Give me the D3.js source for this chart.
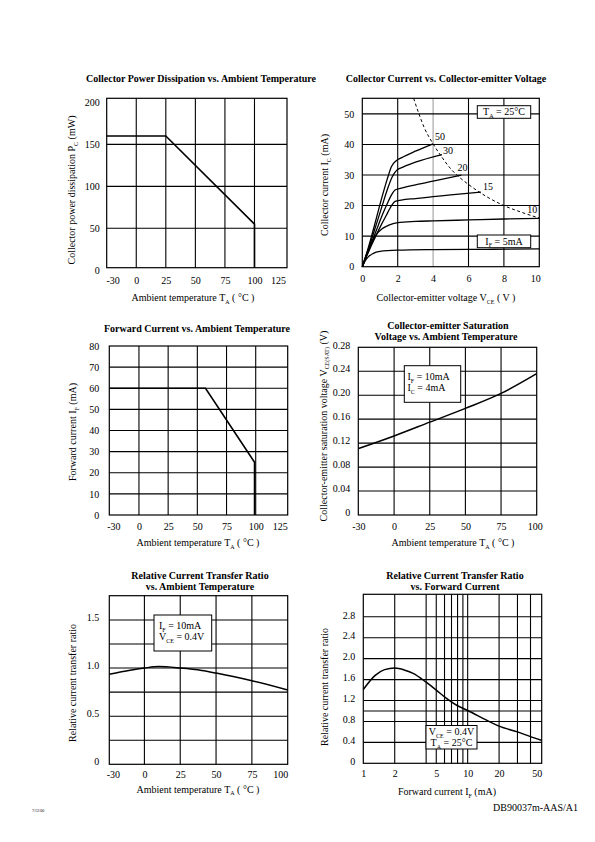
<!DOCTYPE html>
<html><head><meta charset="utf-8">
<script src="https://cdnjs.cloudflare.com/ajax/libs/d3/7.8.5/d3.min.js"></script>
<style>body{margin:0;background:#fff} text{font-family:"Liberation Serif","Times New Roman",serif;fill:#000}</style>
</head><body><script>
// ================= DATA =================
// Panel 1: Collector power dissipation vs ambient temperature
const pdTemp = [-30, 25, 100, 100];
const pdPower = [160, 160, 55, 0];
const pdXTicks = [-30, 0, 25, 50, 75, 100, 125];
const pdYTicks = [0, 50, 100, 150, 200];
const pdXGrid = [0, 25, 50, 75, 100];
const pdYGrid = [50, 100, 150];

// Panel 2: Collector current vs collector-emitter voltage  [Vce, Ic]
const ccXTicks = [0, 2, 4, 6, 8, 10];
const ccYTicks = [0, 10, 20, 30, 40, 50];
const ccXGrid = [2, 4, 6, 8];
const ccYGrid = [10, 20, 30, 40, 50];
const ccCurveLabels = ["50", "30", "20", "15", "10"];
const ic50 = [[0,0],[0.2,3.5],[0.5,9.5],[0.8,16],[1.1,22.5],[1.4,28.5],[1.65,32.8],[1.9,34.6],[2.2,35.6],[3,37.8],[4,40.2]];
const ic30 = [[0,0],[0.2,3.3],[0.5,8.5],[0.8,14],[1.1,19.5],[1.4,25],[1.7,29.5],[1.95,31.6],[2.3,32.6],[3,34.2],[4.5,36.7]];
const ic20 = [[0,0],[0.2,3],[0.5,7.5],[0.8,12],[1.1,16.5],[1.4,20.5],[1.65,23.5],[1.85,25.1],[2.2,25.7],[3,26.8],[4,28],[5.6,30]];
const ic15 = [[0,0],[0.2,2.8],[0.5,6.8],[0.8,10.5],[1.1,14],[1.4,17.3],[1.65,20],[1.85,21.4],[2.2,21.8],[3,22.3],[4,22.9],[5,23.5],[6.7,24.4]];
const ic10 = [[0,0],[0.2,3.5],[0.45,7],[0.75,10.2],[1.1,12.3],[1.5,13.6],[2,14.4],[3,14.8],[4,15],[6,15.3],[8,15.6],[10,15.8]];
const ic5  = [[0,0],[0.15,1.8],[0.35,3.3],[0.6,4.3],[1,5],[2,5.4],[4,5.6],[7,5.7],[10,5.8]];
const icLimit = [[2.9,55.1],[3.2,50],[3.5,45.5],[4,40.2],[4.5,35.8],[5,32],[5.5,29.2],[6,26.9],[7,23],[8,20],[9,17.8],[10,15.9]];

// Panel 3: Forward current vs ambient temperature
const fcTemp = [-30, 57, 99, 99];
const fcCurrent = [60, 60, 25, 0];
const fcXTicks = [-30, 0, 25, 50, 75, 100, 125];
const fcYTicks = [0, 10, 20, 30, 40, 50, 60, 70, 80];
const fcXGrid = [0, 25, 50, 75, 100];
const fcYGrid = [10, 20, 30, 40, 50, 60, 70];

// Panel 4: Vce(sat) vs ambient temperature
const vsTemp = [-25, 0, 25, 50, 75, 100];
const vsVolt = [0.111, 0.132, 0.155, 0.178, 0.203, 0.236];
const vsXTicks = [-30, 0, 25, 50, 75, 100];
const vsYTicks = [0, 0.04, 0.08, 0.12, 0.16, 0.20, 0.24, 0.28];
const vsXGrid = [0, 25, 50, 75];
const vsYGrid = [0.04, 0.08, 0.12, 0.16, 0.20, 0.24];

// Panel 5: Relative CTR vs ambient temperature
const rtTemp = [-25, -10, 0, 10, 25, 40, 50, 75, 100];
const rtRatio = [0.935, 0.978, 1.0, 1.015, 1.0, 0.975, 0.948, 0.868, 0.773];
const rtXTicks = [-30, 0, 25, 50, 75, 100];
const rtYTicks = [0, 0.5, 1.0, 1.5];
const rtXGrid = [0, 25, 50, 75];
const rtYGrid = [0.25, 0.5, 0.75, 1.0, 1.25, 1.5];

// Panel 6: Relative CTR vs forward current
const rfCurrent = [1, 1.3, 1.6, 2, 2.5, 3, 4, 5, 6, 8, 10, 15, 20, 30, 40, 51];
const rfRatio = [1.41, 1.68, 1.79, 1.82, 1.78, 1.72, 1.55, 1.40, 1.27, 1.10, 1.01, 0.83, 0.71, 0.60, 0.51, 0.44];
const rfXTicks = [1, 2, 5, 10, 20, 50];
const rfYTicks = [0, 0.4, 0.8, 1.2, 1.6, 2.0, 2.4, 2.8];
const rfXGrid = [2, 4, 5, 6, 7, 8, 9, 10, 20, 30, 40];
const rfYGrid = [0.4, 0.8, 1.0, 1.2, 1.6, 2.0, 2.4, 2.8];

// ================= DRAWING =================
const FONT = '"Liberation Serif","Times New Roman",serif';
const svg = d3.select("body").append("svg").attr("width", 595).attr("height", 842)
  .style("background", "#fff");

// rich text: parts = array of strings or ["sub", text]
function rich(g, x, y, parts, opt = {}) {
  const size = opt.size || 10;
  const t = g.append("text").attr("x", x).attr("y", y)
    .attr("font-size", size).attr("font-family", FONT)
    .attr("text-anchor", opt.anchor || "middle")
    .attr("font-weight", opt.bold ? "bold" : "normal");
  if (opt.rotate) t.attr("transform", `rotate(-90,${x},${y})`);
  let lowered = false;
  parts.forEach(p => {
    if (Array.isArray(p)) {
      t.append("tspan").attr("dy", lowered ? 0 : 2.6).attr("font-size", size * 0.6).text(p[1]);
      lowered = true;
    } else {
      t.append("tspan").attr("dy", lowered ? -2.6 : 0).text(p);
      lowered = false;
    }
  });
  return t;
}

function panel(o) {
  const g = svg.append("g");
  const [x0, x1] = o.x.range(), [y0, y1] = o.y.range();
  g.selectAll(null).data(o.xGrid).join("line")
    .attr("x1", d => o.x(d)).attr("x2", d => o.x(d)).attr("y1", y0).attr("y2", y1)
    .attr("stroke", d => (o.grayX || []).includes(d) ? "#a0a0a0" : "#000").attr("stroke-width", 1.1);
  g.selectAll(null).data(o.yGrid).join("line")
    .attr("y1", d => o.y(d)).attr("y2", d => o.y(d)).attr("x1", x0).attr("x2", x1)
    .attr("stroke", "#000").attr("stroke-width", 1.1);
  g.append("rect").attr("x", x0).attr("y", y1).attr("width", x1 - x0).attr("height", y0 - y1)
    .attr("fill", "none").attr("stroke", "#000").attr("stroke-width", 1.2);

  const xc = o.x.copy().clamp(true);
  const xa = d3.axisBottom(xc).tickValues(o.xTicks).tickSize(0).tickPadding(o.xPad || 8)
    .tickFormat(o.xFmt || (d => d));
  const gx = g.append("g").attr("transform", `translate(0,${y0})`).call(xa);
  gx.select(".domain").remove();
  gx.attr("font-family", FONT).attr("font-size", 10);
  gx.selectAll(".tick text").attr("fill", "#000").attr("dx", d => {
    const X = xc(d);
    const nx = Math.max(x0 + (o.inL || 0), Math.min(x1 - (o.inR || 0), X));
    return nx - X;
  });
  const ya = d3.axisLeft(o.y).tickValues(o.yTicks).tickSize(0).tickPadding(o.yPad || 8)
    .tickFormat(o.yFmt || (d => d));
  const gy = g.append("g").attr("transform", `translate(${x0},0)`).call(ya);
  gy.select(".domain").remove();
  gy.attr("font-family", FONT).attr("font-size", 10);
  gy.selectAll(".tick text").attr("fill", "#000").attr("y", o.yShift || 0);
  return g;
}

function box(g, x, y, w, h) {
  g.append("rect").attr("x", x).attr("y", y).attr("width", w).attr("height", h)
    .attr("fill", "#fff").attr("stroke", "#000").attr("stroke-width", 1);
}

const decFmt = n => d => d === 0 ? "0" : d.toFixed(n);

// ---------- Panel 1 ----------
{
  const x = d3.scaleLinear().domain([-25, 127.5]).range([106.7, 287]);
  const y = d3.scaleLinear().domain([3, 205]).range([267.7, 98.3]);
  const g = panel({ x, y, xGrid: pdXGrid, yGrid: pdYGrid, xTicks: pdXTicks, yTicks: pdYTicks,
    xPad: 9, yPad: 7, inL: 6, inR: 9 });
  const line = d3.line().x(d => x.copy().clamp(true)(d[0])).y(d => y.copy().clamp(true)(d[1]));
  g.append("path").attr("d", line(d3.zip(pdTemp, pdPower))).attr("fill", "none")
    .attr("stroke", "#000").attr("stroke-width", 1.6);
  rich(g, 201, 82, ["Collector Power Dissipation vs. Ambient Temperature"], { bold: true });
  rich(g, 75, 190, ["Collector power dissipation P", ["sub", "C"], " (mW)"], { rotate: true });
  rich(g, 193, 301, ["Ambient temperature T", ["sub", "A"], " ( °C )"]);
}

// ---------- Panel 2 ----------
{
  const x = d3.scaleLinear().domain([0, 10]).range([362.3, 539.3]);
  const y = d3.scaleLinear().domain([0, 55.1]).range([266.7, 98.3]);
  const g = panel({ x, y, xGrid: ccXGrid, yGrid: ccYGrid, xTicks: ccXTicks, yTicks: ccYTicks,
    xPad: 8, yPad: 8, inR: 4, grayX: [4] });
  const line = d3.line().x(d => x(d[0])).y(d => y(d[1])).curve(d3.curveMonotoneX);
  const curves = [ic50, ic30, ic20, ic15, ic10];
  g.append("path").attr("d", line(ic5)).attr("fill", "none").attr("stroke", "#000").attr("stroke-width", 1.3);
  curves.forEach(c => g.append("path").attr("d", line(c)).attr("fill", "none")
    .attr("stroke", "#000").attr("stroke-width", 1.3));
  g.append("path").attr("d", line(icLimit)).attr("fill", "none").attr("stroke", "#000")
    .attr("stroke-width", 1).attr("stroke-dasharray", "3,2.5");
  const offs = [[2, -4], [1, -1], [-4, -4], [2, -2], [-12, -5]];
  curves.forEach((c, i) => {
    const e = c[c.length - 1];
    rich(g, x(e[0]) + offs[i][0], y(e[1]) + offs[i][1], [ccCurveLabels[i]], { anchor: "start" });
  });
  box(g, 477.3, 105.7, 53.4, 12.6);
  rich(g, 504, 115, ["T", ["sub", "A"], " = 25°C"]);
  box(g, 477.3, 235, 53.4, 12.7);
  rich(g, 504, 244.5, ["I", ["sub", "F"], " = 5mA"]);
  rich(g, 446, 82, ["Collector Current vs. Collector-emitter Voltage"], { bold: true });
  rich(g, 328, 185, ["Collector current I", ["sub", "C"], " (mA)"], { rotate: true });
  rich(g, 446, 301, ["Collector-emitter voltage V", ["sub", "CE"], " ( V )"]);
}

// ---------- Panel 3 ----------
{
  const x = d3.scaleLinear().domain([-25.4, 127.4]).range([109.3, 287.7]);
  const y = d3.scaleLinear().domain([0, 80]).range([515, 346]);
  const g = panel({ x, y, xGrid: fcXGrid, yGrid: fcYGrid, xTicks: fcXTicks, yTicks: fcYTicks,
    xPad: 7.5, yPad: 10, inL: 4, inR: 8 });
  const line = d3.line().x(d => x.copy().clamp(true)(d[0])).y(d => y(d[1]));
  g.append("path").attr("d", line(d3.zip(fcTemp, fcCurrent))).attr("fill", "none")
    .attr("stroke", "#000").attr("stroke-width", 1.6);
  rich(g, 197, 331.5, ["Forward Current vs. Ambient Temperature"], { bold: true });
  rich(g, 76, 432, ["Forward current I", ["sub", "F"], " (mA)"], { rotate: true });
  rich(g, 198, 546, ["Ambient temperature T", ["sub", "A"], " ( °C )"]);
}

// ---------- Panel 4 ----------
{
  const x = d3.scaleLinear().domain([-25.1, 100]).range([358.3, 536.7]);
  const y = d3.scaleLinear().domain([0, 0.28]).range([515, 347.3]);
  const g = panel({ x, y, xGrid: vsXGrid, yGrid: vsYGrid, xTicks: vsXTicks, yTicks: vsYTicks,
    xPad: 7.5, yPad: 8, inR: 2, yShift: -2.5, yFmt: decFmt(2) });
  const line = d3.line().x(d => x(d[0])).y(d => y(d[1])).curve(d3.curveMonotoneX);
  g.append("path").attr("d", line(d3.zip(vsTemp, vsVolt))).attr("fill", "none")
    .attr("stroke", "#000").attr("stroke-width", 1.5);
  box(g, 404.3, 365.7, 56.4, 36.6);
  rich(g, 407.5, 380, ["I", ["sub", "F"], " = 10mA"], { anchor: "start" });
  rich(g, 407.5, 391, ["I", ["sub", "C"], " = 4mA"], { anchor: "start" });
  rich(g, 448, 328.5, ["Collector-emitter Saturation"], { bold: true });
  rich(g, 446, 339.5, ["Voltage vs. Ambient Temperature"], { bold: true });
  rich(g, 326.5, 426, ["Collector-emitter saturation voltage V", ["sub", "CE(SAT)"], " (V)"], { rotate: true });
  rich(g, 453, 546, ["Ambient temperature T", ["sub", "A"], " ( °C )"]);
}

// ---------- Panel 5 ----------
{
  const x = d3.scaleLinear().domain([-24.5, 100]).range([109.3, 287.7]);
  const y = d3.scaleLinear().domain([0, 1.752]).range([764.3, 595.7]);
  const g = panel({ x, y, xGrid: rtXGrid, yGrid: rtYGrid, xTicks: rtXTicks, yTicks: rtYTicks,
    xPad: 6.5, yPad: 10, inL: 3.5, inR: 7.5, yShift: -3, yFmt: decFmt(1) });
  const line = d3.line().x(d => x.copy().clamp(true)(d[0])).y(d => y(d[1])).curve(d3.curveMonotoneX);
  g.append("path").attr("d", line(d3.zip(rtTemp, rtRatio))).attr("fill", "none")
    .attr("stroke", "#000").attr("stroke-width", 1.5);
  box(g, 154, 615, 57.7, 36);
  rich(g, 159, 629, ["I", ["sub", "F"], " = 10mA"], { anchor: "start" });
  rich(g, 159, 640, ["V", ["sub", "CE"], " = 0.4V"], { anchor: "start" });
  rich(g, 200, 578.5, ["Relative Current Transfer Ratio"], { bold: true });
  rich(g, 200, 589.5, ["vs. Ambient Temperature"], { bold: true });
  rich(g, 76, 683, ["Relative current transfer ratio"], { rotate: true });
  rich(g, 198, 792.5, ["Ambient temperature T", ["sub", "A"], " ( °C )"]);
}

// ---------- Panel 6 ----------
{
  const x = d3.scaleLog().domain([1, 51.2]).range([363.3, 541.7]);
  const y = d3.scaleLinear().domain([0, 3.23]).range([763.3, 594.3]);
  const g = panel({ x, y, xGrid: rfXGrid, yGrid: rfYGrid, xTicks: rfXTicks, yTicks: rfYTicks,
    xPad: 6.5, yPad: 8, inR: 5, yShift: -2, xFmt: d3.format("d"), yFmt: decFmt(1) });
  const line = d3.line().x(d => x(d[0])).y(d => y(d[1])).curve(d3.curveMonotoneX);
  g.append("path").attr("d", line(d3.zip(rfCurrent, rfRatio))).attr("fill", "none")
    .attr("stroke", "#000").attr("stroke-width", 1.5);
  box(g, 426, 725.5, 51, 23.5);
  rich(g, 451.5, 735, ["V", ["sub", "CE"], " = 0.4V"]);
  rich(g, 451.5, 746, ["T", ["sub", "A"], " = 25°C"]);
  rich(g, 455, 578.5, ["Relative Current Transfer Ratio"], { bold: true });
  rich(g, 455, 589.5, ["vs. Forward Current"], { bold: true });
  rich(g, 328, 687, ["Relative current transfer ratio"], { rotate: true });
  rich(g, 447, 795, ["Forward current I", ["sub", "F"], " (mA)"]);
}

// ---------- Footer ----------
rich(svg, 578, 811, ["DB90037m-AAS/A1"], { anchor: "end", size: 10 });
svg.append("text").attr("x", 32).attr("y", 812).attr("font-size", 4).attr("fill", "#777")
  .attr("font-family", FONT).text("7/12/00");
</script></body></html>
